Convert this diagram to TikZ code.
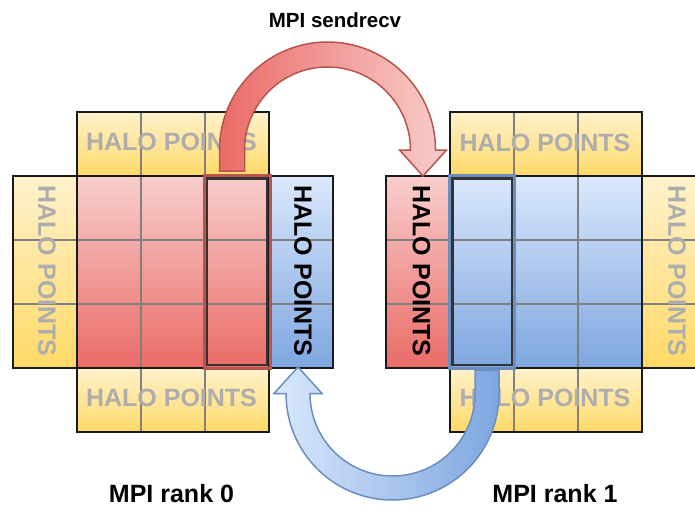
\documentclass[tikz,border=0pt]{standalone}
\usepackage{fontspec}
\setmainfont{Liberation Sans}
\definecolor{ylwTop}{HTML}{FFF2CC}
\definecolor{ylwBot}{HTML}{FFD966}
\definecolor{redTop}{HTML}{F8CECC}
\definecolor{redBot}{HTML}{EA6B66}
\definecolor{redLine}{HTML}{B85450}
\definecolor{bluTop}{HTML}{DAE8FC}
\definecolor{bluBot}{HTML}{7EA6E0}
\definecolor{bluLine}{HTML}{6C8EBF}
\definecolor{haloGray}{HTML}{ADADAD}
\definecolor{edge}{HTML}{1A1A1A}
\tikzset{
  yfill/.style={top color=ylwTop, bottom color=ylwBot, draw=none},
  rfill/.style={top color=redTop, bottom color=redBot, draw=none},
  bfill/.style={top color=bluTop, bottom color=bluBot, draw=none},
  cellline/.style={draw=gray, line width=1.5pt},
  boxline/.style={draw=edge, line width=2.6pt},
  colred/.style={draw=redLine, line width=3pt},
  colblue/.style={draw=bluLine, line width=3pt},
  colinner/.style={draw=black!80, line width=2.2pt},
  halotext/.style={inner sep=0pt, font=\fontsize{25}{30}\selectfont\bfseries, text=haloGray},
  halodark/.style={halotext, text=black},
  caption/.style={inner sep=0pt, anchor=base, font=\fontsize{25}{30}\selectfont\bfseries},
  arrowred/.style={left color=redBot, right color=redTop, draw=redLine, line width=1.5pt, line join=miter},
  arrowblue/.style={left color=bluTop, right color=bluBot, draw=bluLine, line width=1.5pt, line join=miter},
}
\begin{document}
\begin{tikzpicture}[x=1pt,y=1pt]
\useasboundingbox (0,0) rectangle (695,507);
\clip (0,0) rectangle (695,507);

% ---------- rank 0 ----------
\path[yfill] (77,395) rectangle (269,331);
\path[yfill] (77,139) rectangle (269,75);
\path[yfill] (13,331) rectangle (77,139);
\path[rfill] (77,331) rectangle (269,139);
\path[bfill] (269,331) rectangle (333,139);
\foreach \x in {141,205} \draw[cellline] (\x,395) -- (\x,75);
\foreach \y in {267,203} \draw[cellline] (13,\y) -- (333,\y);
\draw[boxline] (77,395) rectangle (269,331);
\draw[boxline] (77,139) rectangle (269,75);
\draw[boxline] (13,331) rectangle (77,139);
\draw[boxline] (77,331) rectangle (269,139);
\draw[boxline] (269,331) rectangle (333,139);
\draw[colred] (204.5,331.5) rectangle (270,139);
\draw[colinner] (207,328.5) rectangle (267,142);

\node[halotext] (t0top) at (171.5,365) {HALO POINTS};
\node[halotext] (t0bot) at (171.5,109) {HALO POINTS};
\node[halotext, rotate=-90] (t0left) at (47,236) {HALO POINTS};
\node[halodark, rotate=-90] (t0right) at (303,236) {HALO POINTS};

% ---------- rank 1 ----------
\path[yfill] (450,395) rectangle (642,331);
\path[yfill] (450,139) rectangle (642,75);
\path[yfill] (642,331) rectangle (706,139);
\path[bfill] (450,331) rectangle (642,139);
\path[rfill] (386,331) rectangle (450,139);
\foreach \x in {514,578} \draw[cellline] (\x,395) -- (\x,75);
\foreach \y in {267,203} \draw[cellline] (386,\y) -- (706,\y);
\draw[boxline] (450,395) rectangle (642,331);
\draw[boxline] (450,139) rectangle (642,75);
\draw[boxline] (642,331) rectangle (706,139);
\draw[boxline] (450,331) rectangle (642,139);
\draw[boxline] (386,331) rectangle (450,139);
\draw[colblue] (449.5,331.5) rectangle (514.5,139);
\draw[colinner] (452.5,328.5) rectangle (512,142);

\node[halotext] (t1top) at (545,364.5) {HALO POINTS};
\node[halotext] (t1bot) at (545,109) {HALO POINTS};
\node[halodark, rotate=-90] (t1left) at (421.5,236) {HALO POINTS};
\node[halotext, rotate=-90] (t1right) at (677,236) {HALO POINTS};

% ---------- exchange arrows ----------
\path[arrowred] (219.5,336) -- (219.5,357) arc[start angle=180, end angle=0, radius=108]
  -- (446.5,357) -- (423,331) -- (399.5,357) -- (410.5,357)
  arc[start angle=0, end angle=180, radius=83] -- (244.5,336) -- cycle;
\path[arrowblue] (475,137) -- (475,113.5) arc[start angle=0, end angle=-180, radius=82.5]
  -- (322,113.5) -- (298,140) -- (274,113.5) -- (286,113.5)
  arc[start angle=180, end angle=360, radius=106.5] -- (499,137) -- cycle;

% ---------- captions ----------
\node[caption, font=\fontsize{20.5}{24}\selectfont\bfseries] (send) at (335,479) {MPI sendrecv};
\node[caption] (rank0) at (171.5,5) {MPI rank 0};
\node[caption] (rank1) at (555,5) {MPI rank 1};
\end{tikzpicture}
\end{document}
